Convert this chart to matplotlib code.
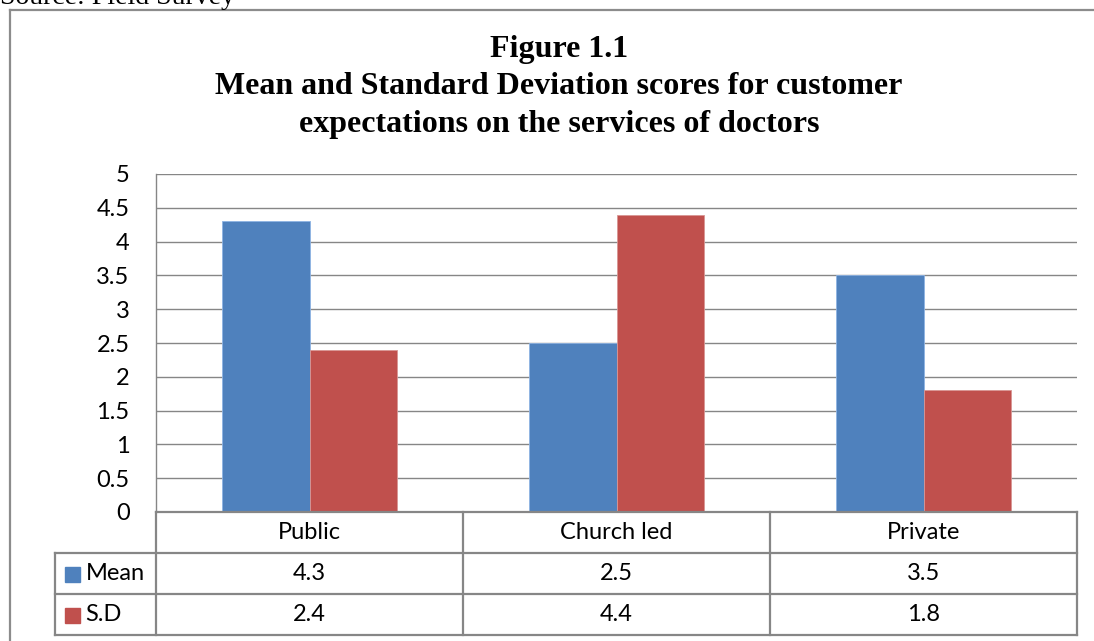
import numpy as np
import matplotlib.pyplot as plt
from matplotlib.lines import Line2D
from matplotlib.patches import Rectangle

categories = ['Public', 'Church led', 'Private']
mean_vals = [4.3, 2.5, 3.5]
sd_vals = [2.4, 4.4, 1.8]
series_names = ['Mean', 'S.D']
yticks = [0, 0.5, 1, 1.5, 2, 2.5, 3, 3.5, 4, 4.5, 5]

blue = '#4F81BD'
red = '#C0504D'
grey = '#868686'
sans = 'Lato'
serif = 'Liberation Serif'
fs = 17

W, H = 1094, 641
fig = plt.figure(figsize=(W / 100, H / 100), dpi=100)

def fx(px):
    return px / W

def fy(py):
    return 1 - py / H

# outer frame (only top and left visible)
fig.add_artist(Line2D([fx(10), 1.0], [fy(10), fy(10)], color='#8c8c8c', lw=1.6))
fig.add_artist(Line2D([fx(10), fx(10)], [fy(10), 0], color='#8c8c8c', lw=1.6))

fig.text(fx(0), fy(4), 'Source: Field Survey', family=serif, fontsize=20,
         ha='left', va='baseline')

fig.text(fx(559), fy(87),
         'Figure 1.1\nMean and Standard Deviation scores for customer\nexpectations on the services of doctors',
         family=serif, fontsize=23, fontweight='bold', ha='center', va='center',
         linespacing=1.38)

# main chart
ax = fig.add_axes([fx(156), fy(512), fx(1077) - fx(156), fy(174) - fy(512)])
x = np.arange(len(categories))
bw = 0.286
ax.bar(x + 0.5 - bw / 2, mean_vals, bw, color=blue, edgecolor='#8EB4E3', lw=0.6, zorder=3)
ax.bar(x + 0.5 + bw / 2, sd_vals, bw, color=red, edgecolor='#D99694', lw=0.6, zorder=3)
ax.set_xlim(0, 3)
ax.set_ylim(0, 5)
ax.set_yticks(yticks)
ax.set_yticklabels([f'{t:g}' for t in yticks], family=sans, fontsize=fs)
ax.tick_params(axis='y', length=0, pad=19)
ax.set_xticks([])
ax.grid(axis='y', color=grey, lw=1.0, zorder=0)
for s in ['top', 'right', 'bottom']:
    ax.spines[s].set_visible(False)
ax.spines['left'].set_color(grey)
ax.spines['left'].set_linewidth(1.0)

# data table below
left_px = 55
tab = fig.add_axes([fx(left_px), fy(635), fx(1077) - fx(left_px), fy(512) - fy(635)])
x0 = -(156 - left_px) / 307
tab.set_xlim(x0, 3)
tab.set_ylim(3, 0)
tab.axis('off')
lc = dict(color=grey, lw=1.6, clip_on=False)
tab.plot([0, 3], [0, 0], **lc)
for xv in [0, 1, 2, 3]:
    tab.plot([xv, xv], [0, 3], **lc)
for yv in [1, 2, 3]:
    tab.plot([x0, 3], [yv, yv], **lc)
tab.plot([x0, x0], [1, 3], **lc)

for i, c in enumerate(categories):
    tab.text(i + 0.5, 0.5, c, family=sans, fontsize=fs, ha='center', va='center')
for r, (name, vals, col) in enumerate(zip(series_names, [mean_vals, sd_vals], [blue, red])):
    yc = r + 1.5
    tab.add_patch(Rectangle((x0 + 0.033, yc - 0.17), 0.047, 0.37, color=col, clip_on=False))
    tab.text(x0 + 0.1, yc, name, family=sans, fontsize=fs, ha='left', va='center')
    for i, v in enumerate(vals):
        tab.text(i + 0.5, yc, f'{v:g}', family=sans, fontsize=fs, ha='center', va='center')

fig.savefig('out.png', dpi=100)
